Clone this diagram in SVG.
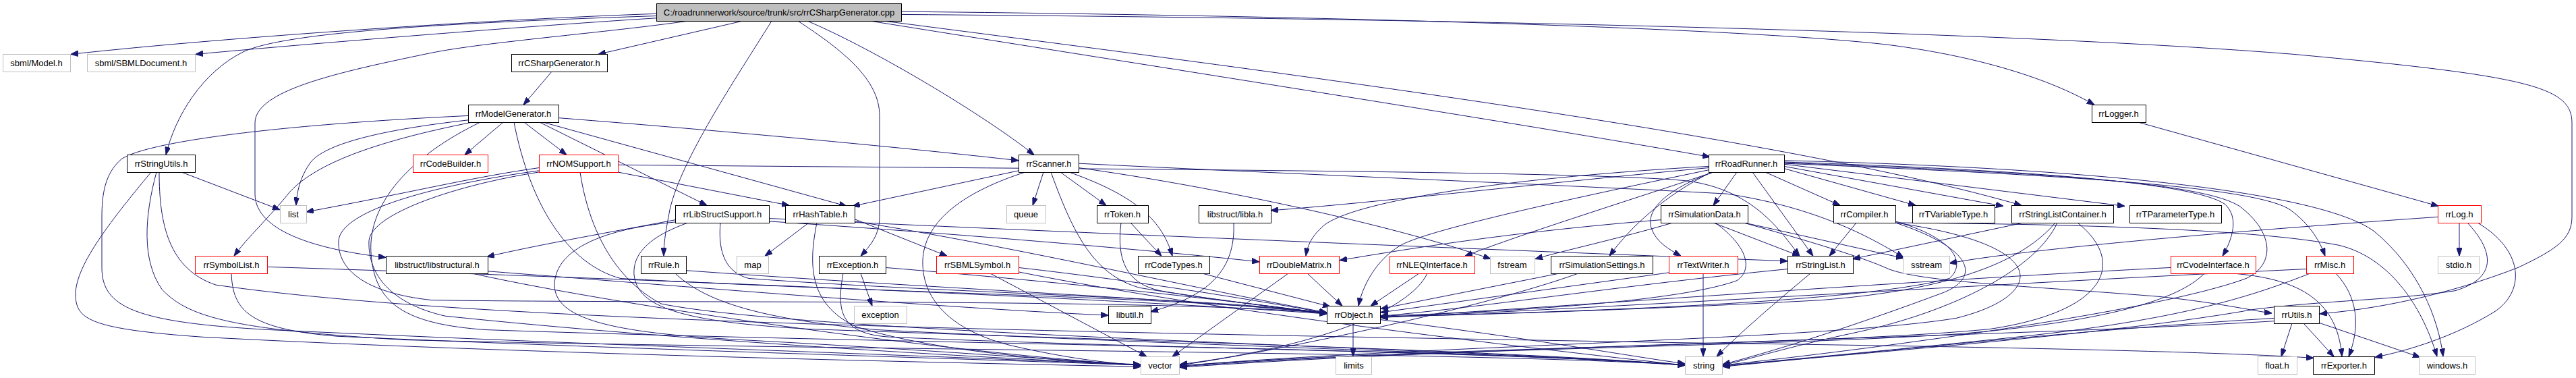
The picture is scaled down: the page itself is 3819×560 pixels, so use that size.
<svg xmlns="http://www.w3.org/2000/svg" width="3819" height="560" viewBox="0 0 3819 560">
<style>
.e path{fill:none;stroke:#191970;stroke-width:1;marker-end:url(#ah);vector-effect:non-scaling-stroke}
.n rect{fill:#fff;stroke:#000;stroke-width:1}
.n.r rect{stroke:#ff0000}
.n.g rect{stroke:#bfbfbf}
.n.root rect{fill:#bfbfbf}
.n text{font-family:"Liberation Sans",Arial,Helvetica,sans-serif;font-size:13px;text-anchor:middle;fill:#000}
</style>
<defs>
<marker id="ah" viewBox="0 0 11 8" markerWidth="11" markerHeight="8" refX="11" refY="4" orient="auto" markerUnits="userSpaceOnUse"><path d="M0,0L11,4L0,8z" fill="#191970" stroke="#191970" stroke-width="1"/></marker>
</defs>
<rect width="3819" height="560" fill="#fff"/>
<g id="connectors" class="e" transform="scale(1,1.0714)">
<path d="M973,19 C750,26 350,50 105,75"/>
<path d="M973,25 C800,35 500,57 290,75"/>
<path d="M973,22 C650,32 420,45 360,72 C300,100 260,160 246,214"/>
<path d="M1020,29 C900,45 720,58 640,73 C500,100 378,125 378,170 L378,268 C378,320 470,345 572,356"/>
<path d="M1101,29 L887,75"/>
<path d="M1144,29 C1090,110 1010,220 993,290 C987,320 984,335 984,354"/>
<path d="M1183,29 C1250,70 1304,110 1304,160 L1304,300 C1304,325 1290,340 1276,354"/>
<path d="M1197,29 C1300,70 1460,160 1533,214"/>
<path d="M1290,29 C1700,90 2250,170 2535,217"/>
<path d="M1310,29 C1900,100 2650,190 2997,284"/>
<path d="M1336,16 C2000,22 2600,40 2800,62 C2950,80 3050,115 3105,145"/>
<path d="M1336,20 C2200,26 3000,45 3400,75 C3750,105 3813,120 3813,170 L3813,300 C3813,330 3790,345 3733,370 C3650,400 3550,425 3439,434"/>
<path d="M818,99 L776,145"/>
<path d="M746,169 L689,214"/>
<path d="M777,169 L840,214"/>
<path d="M800,169 L1048,284"/>
<path d="M805,169 L1255,285"/>
<path d="M828,163 C1100,183 1350,205 1510,222"/>
<path d="M762,169 C785,280 840,365 920,385 C1300,405 1750,410 1967,433"/>
<path d="M694,160 C420,172 220,195 180,220 C155,240 151,270 151,300 L151,370 C151,425 200,446 400,456 C900,478 1400,492 1691,505"/>
<path d="M694,166 C560,180 480,200 460,225 C445,245 440,265 439,284"/>
<path d="M700,169 C560,195 470,225 430,265 C400,300 365,330 347,354"/>
<path d="M712,169 C610,215 545,280 550,350 C555,420 600,448 720,456 C1300,475 2200,482 2498,505"/>
<path d="M799,232 C700,245 600,268 454,293"/>
<path d="M916,238 L1170,284"/>
<path d="M916,228 C1600,234 2350,236 2500,250 C2600,262 2640,320 2668,354"/>
<path d="M799,236 C650,255 505,290 502,333 C500,372 540,405 640,415 C1000,420 1700,412 1967,433"/>
<path d="M799,238 C680,255 550,295 547,333 C545,380 580,420 660,437 C1000,470 1450,495 1691,504"/>
<path d="M860,238 C870,300 900,380 980,420 C1200,462 2200,482 2498,505"/>
<path d="M1001,304 C900,322 800,338 722,355"/>
<path d="M1001,307 C880,318 822,350 822,395 C824,440 900,460 1100,470 C1400,485 1600,500 1691,505"/>
<path d="M1020,308 C960,328 938,352 940,380 C945,425 1010,445 1200,455 C1700,472 2250,485 2498,505"/>
<path d="M1068,308 C1065,340 1070,375 1110,385 C1400,405 1800,412 1967,433"/>
<path d="M1140,306 C1400,322 1700,345 1867,362"/>
<path d="M1140,302 C1500,318 2200,345 2650,361"/>
<path d="M1199,308 L1134,354"/>
<path d="M1267,303 L1404,354"/>
<path d="M1267,306 C1500,340 1800,405 1967,432"/>
<path d="M1211,308 C1200,360 1195,420 1270,452 C1400,490 1600,500 1691,505"/>
<path d="M1547,238 L1531,284"/>
<path d="M1572,238 L1640,284"/>
<path d="M1585,238 C1675,268 1722,300 1738,354"/>
<path d="M1520,238 C1420,268 1370,310 1368,360 C1366,420 1420,460 1500,478 C1580,495 1640,502 1691,505"/>
<path d="M1558,238 C1590,320 1620,380 1690,398 C1800,415 1900,425 1967,433"/>
<path d="M1510,236 L1264,285"/>
<path d="M1599,232 C1800,258 2060,310 2210,358"/>
<path d="M1599,226 C1900,240 2300,255 2560,268 C2680,285 2760,320 2822,356"/>
<path d="M1676,308 L1722,354"/>
<path d="M1662,308 C1655,360 1670,392 1720,402 C1820,418 1920,427 1967,434"/>
<path d="M1782,378 L1972,424"/>
<path d="M1829,308 C1832,375 1790,410 1706,431"/>
<path d="M1468,378 L1700,493"/>
<path d="M1510,370 C1700,390 1880,418 1967,433"/>
<path d="M1510,376 C1800,430 2250,480 2498,505"/>
<path d="M1910,378 L1738,493"/>
<path d="M1938,378 L1990,423"/>
<path d="M1276,378 L1293,423"/>
<path d="M1313,370 C1600,392 1850,418 1967,434"/>
<path d="M1250,378 C1240,430 1245,462 1320,466 C1700,482 2250,487 2498,505"/>
<path d="M1017,374 C1400,400 1800,415 1967,434"/>
<path d="M1001,378 C1040,412 1110,440 1300,456 C1800,480 2250,488 2498,505"/>
<path d="M723,375 C1000,395 1400,426 1643,436"/>
<path d="M700,378 C900,420 1400,488 1691,505"/>
<path d="M396,369 C900,384 1600,410 1967,434"/>
<path d="M343,378 C345,430 370,455 500,465 C900,482 1400,495 1691,505"/>
<path d="M269,238 L415,290"/>
<path d="M224,238 C160,310 110,370 112,410 C114,442 135,455 300,466 C700,486 1300,500 1691,507"/>
<path d="M232,238 C214,300 210,360 240,400 C280,440 350,456 600,470 C1200,484 2200,486 2498,505"/>
<path d="M236,238 C236,310 250,372 320,394 C700,445 1500,458 2500,474 C3000,480 3300,487 3430,495"/>
<path d="M2006,447 L2006,493"/>
<path d="M2046,442 C2250,465 2400,490 2498,503"/>
<path d="M2533,230 C2250,245 2020,275 1965,310 C1945,325 1938,340 1936,354"/>
<path d="M2533,232 C2300,252 2020,282 1884,291"/>
<path d="M2533,235 C2300,280 2110,320 2075,340 C2040,360 2020,395 2014,423"/>
<path d="M2540,238 C2420,276 2260,322 2172,354"/>
<path d="M2537,238 C2470,270 2420,310 2386,354"/>
<path d="M2540,238 C2470,262 2440,290 2448,315 C2455,335 2475,345 2492,354"/>
<path d="M2575,238 L2540,284"/>
<path d="M2598,238 L2688,354"/>
<path d="M2617,238 L2728,284"/>
<path d="M2645,233 L2840,284"/>
<path d="M2645,230 L2970,285"/>
<path d="M2645,227 L3150,285"/>
<path d="M2645,224 C3000,235 3250,252 3298,282 C3320,300 3310,330 3295,354"/>
<path d="M2645,226 C3000,240 3340,255 3395,290 C3425,310 3440,335 3447,354"/>
<path d="M2645,222 C3100,232 3440,265 3520,320 C3585,370 3615,440 3622,493"/>
<path d="M2645,225 C3000,238 3260,250 3320,285 C3370,320 3375,365 3330,385 C3200,430 2800,480 2554,505"/>
<path d="M2462,304 C2250,320 2100,342 1986,360"/>
<path d="M2480,308 C2400,330 2320,346 2276,358"/>
<path d="M2540,308 L2668,354"/>
<path d="M2543,308 C2590,340 2600,372 2575,388 C2480,420 2200,432 2047,437"/>
<path d="M2586,308 L2822,357"/>
<path d="M2585,308 C2680,333 2760,355 2800,372 C2850,390 3000,395 3200,410 C3300,420 3340,430 3368,433"/>
<path d="M2752,308 L2712,354"/>
<path d="M2810,306 C2900,330 2915,365 2890,385 C2750,420 2300,432 2047,438"/>
<path d="M2810,308 C2930,345 2935,385 2880,405 C2750,450 2650,480 2554,504"/>
<path d="M2810,308 C3100,310 3350,318 3467,339 C3540,355 3590,420 3613,493"/>
<path d="M2810,308 C3050,340 3030,410 2900,440 C2700,470 2100,478 1749,506"/>
<path d="M3000,308 L2747,358"/>
<path d="M3047,308 C3000,360 2900,400 2700,415 C2400,430 2150,436 2047,438"/>
<path d="M3050,308 C3020,370 2900,430 2750,460 C2650,480 2600,495 2554,505"/>
<path d="M3080,308 C3150,360 3130,430 2950,455 C2700,478 2100,480 1749,506"/>
<path d="M2525,378 L2525,493"/>
<path d="M2474,377 L2047,432"/>
<path d="M2312,378 L2047,427"/>
<path d="M2340,378 C2200,425 1900,485 1749,505"/>
<path d="M2104,378 L2032,423"/>
<path d="M2116,378 C2090,430 1950,480 1749,504"/>
<path d="M2650,372 C2400,395 2200,425 2047,437"/>
<path d="M2684,378 C2630,420 2580,460 2545,493"/>
<path d="M3218,370 C2800,390 2300,425 2047,439"/>
<path d="M3268,378 C3230,415 3120,445 2900,462 C2600,480 2100,482 1749,507"/>
<path d="M3310,378 C3400,385 3465,410 3472,493"/>
<path d="M3463,378 C3495,410 3500,450 3482,493"/>
<path d="M3419,372 C3000,390 2400,425 2047,439"/>
<path d="M3425,378 C3350,405 3250,440 3000,465 C2800,485 2650,497 2554,506"/>
<path d="M3398,447 L3382,493"/>
<path d="M3415,447 L3460,493"/>
<path d="M3437,446 L3588,494"/>
<path d="M3371,440 C3100,455 2800,485 2554,507"/>
<path d="M3371,444 C3000,465 2200,478 1749,508"/>
<path d="M3646,308 L3646,354"/>
<path d="M3614,300 C3300,320 3000,345 2890,364"/>
<path d="M3673,308 C3740,345 3745,400 3700,430 C3640,465 3570,485 3521,494"/>
<path d="M3658,308 C3700,350 3700,385 3640,402 C3550,415 3450,415 3340,428 C3150,460 2800,485 2554,506"/>
<path d="M3170,169 L3615,285"/>
</g>
<g id="node-root" class="n root"><rect x="973.5" y="5.5" width="363" height="26"/><text x="1155" y="23">C:/roadrunnerwork/source/trunk/src/rrCSharpGenerator.cpp</text></g>
<g id="node-sbml-model" class="n g"><rect x="4.5" y="80.5" width="100" height="26"/><text x="54" y="98">sbml/Model.h</text></g>
<g id="node-sbml-sbmldocument" class="n g"><rect x="129.5" y="80.5" width="160" height="26"/><text x="209" y="98">sbml/SBMLDocument.h</text></g>
<g id="node-rrcsharpgenerator" class="n"><rect x="758.5" y="80.5" width="142" height="26"/><text x="829" y="98">rrCSharpGenerator.h</text></g>
<g id="node-rrmodelgenerator" class="n"><rect x="694.5" y="155.5" width="134" height="26"/><text x="761" y="173">rrModelGenerator.h</text></g>
<g id="node-rrlogger" class="n"><rect x="3101.5" y="155.5" width="80" height="26"/><text x="3141" y="173">rrLogger.h</text></g>
<g id="node-rrstringutils" class="n"><rect x="188.5" y="229.5" width="101" height="26"/><text x="239" y="247">rrStringUtils.h</text></g>
<g id="node-rrcodebuilder" class="n r"><rect x="612.5" y="229.5" width="111" height="26"/><text x="668" y="247">rrCodeBuilder.h</text></g>
<g id="node-rrnomsupport" class="n r"><rect x="799.5" y="229.5" width="117" height="26"/><text x="858" y="247">rrNOMSupport.h</text></g>
<g id="node-rrscanner" class="n"><rect x="1510.5" y="229.5" width="89" height="26"/><text x="1555" y="247">rrScanner.h</text></g>
<g id="node-rrroadrunner" class="n"><rect x="2533.5" y="229.5" width="112" height="26"/><text x="2589" y="247">rrRoadRunner.h</text></g>
<g id="node-list" class="n g"><rect x="415.5" y="304.5" width="39" height="26"/><text x="435" y="322">list</text></g>
<g id="node-rrlibstructsupport" class="n"><rect x="1001.5" y="304.5" width="139" height="26"/><text x="1071" y="322">rrLibStructSupport.h</text></g>
<g id="node-rrhashtable" class="n"><rect x="1164.5" y="304.5" width="103" height="26"/><text x="1216" y="322">rrHashTable.h</text></g>
<g id="node-queue" class="n g"><rect x="1492.5" y="304.5" width="58" height="26"/><text x="1521" y="322">queue</text></g>
<g id="node-rrtoken" class="n"><rect x="1626.5" y="304.5" width="76" height="26"/><text x="1664" y="322">rrToken.h</text></g>
<g id="node-libla" class="n"><rect x="1777.5" y="304.5" width="107" height="26"/><text x="1831" y="322">libstruct/libla.h</text></g>
<g id="node-rrsimulationdata" class="n"><rect x="2462.5" y="304.5" width="129" height="26"/><text x="2527" y="322">rrSimulationData.h</text></g>
<g id="node-rrcompiler" class="n"><rect x="2718.5" y="304.5" width="92" height="26"/><text x="2764" y="322">rrCompiler.h</text></g>
<g id="node-rrtvariabletype" class="n"><rect x="2835.5" y="304.5" width="122" height="26"/><text x="2896" y="322">rrTVariableType.h</text></g>
<g id="node-rrstringlistcontainer" class="n"><rect x="2982.5" y="304.5" width="151" height="26"/><text x="3058" y="322">rrStringListContainer.h</text></g>
<g id="node-rrtparametertype" class="n"><rect x="3157.5" y="304.5" width="136" height="26"/><text x="3225" y="322">rrTParameterType.h</text></g>
<g id="node-rrlog" class="n r"><rect x="3614.5" y="304.5" width="64" height="26"/><text x="3646" y="322">rrLog.h</text></g>
<g id="node-rrsymbollist" class="n r"><rect x="289.5" y="379.5" width="107" height="26"/><text x="343" y="397">rrSymbolList.h</text></g>
<g id="node-libstructural" class="n"><rect x="572.5" y="379.5" width="151" height="26"/><text x="648" y="397">libstruct/libstructural.h</text></g>
<g id="node-rrrule" class="n"><rect x="950.5" y="379.5" width="67" height="26"/><text x="984" y="397">rrRule.h</text></g>
<g id="node-map" class="n g"><rect x="1092.5" y="379.5" width="47" height="26"/><text x="1116" y="397">map</text></g>
<g id="node-rrexception" class="n"><rect x="1214.5" y="379.5" width="99" height="26"/><text x="1264" y="397">rrException.h</text></g>
<g id="node-rrsbmlsymbol" class="n r"><rect x="1388.5" y="379.5" width="122" height="26"/><text x="1449" y="397">rrSBMLSymbol.h</text></g>
<g id="node-rrcodetypes" class="n"><rect x="1687.5" y="379.5" width="106" height="26"/><text x="1740" y="397">rrCodeTypes.h</text></g>
<g id="node-rrdoublematrix" class="n r"><rect x="1867.5" y="379.5" width="118" height="26"/><text x="1926" y="397">rrDoubleMatrix.h</text></g>
<g id="node-rrnleqinterface" class="n r"><rect x="2060.5" y="379.5" width="126" height="26"/><text x="2123" y="397">rrNLEQInterface.h</text></g>
<g id="node-fstream" class="n g"><rect x="2209.5" y="379.5" width="66" height="26"/><text x="2242" y="397">fstream</text></g>
<g id="node-rrsimulationsettings" class="n"><rect x="2299.5" y="379.5" width="151" height="26"/><text x="2375" y="397">rrSimulationSettings.h</text></g>
<g id="node-rrtextwriter" class="n r"><rect x="2474.5" y="379.5" width="102" height="26"/><text x="2525" y="397">rrTextWriter.h</text></g>
<g id="node-rrstringlist" class="n"><rect x="2650.5" y="379.5" width="97" height="26"/><text x="2699" y="397">rrStringList.h</text></g>
<g id="node-sstream" class="n g"><rect x="2821.5" y="379.5" width="69" height="26"/><text x="2856" y="397">sstream</text></g>
<g id="node-rrcvodeinterface" class="n r"><rect x="3218.5" y="379.5" width="126" height="26"/><text x="3281" y="397">rrCvodeInterface.h</text></g>
<g id="node-rrmisc" class="n r"><rect x="3419.5" y="379.5" width="70" height="26"/><text x="3454" y="397">rrMisc.h</text></g>
<g id="node-stdio" class="n g"><rect x="3614.5" y="379.5" width="61" height="26"/><text x="3645" y="397">stdio.h</text></g>
<g id="node-exception" class="n g"><rect x="1266.5" y="453.5" width="78" height="26"/><text x="1305" y="471">exception</text></g>
<g id="node-libutil" class="n"><rect x="1643.5" y="453.5" width="63" height="26"/><text x="1675" y="471">libutil.h</text></g>
<g id="node-rrobject" class="n"><rect x="1967.5" y="453.5" width="79" height="26"/><text x="2007" y="471">rrObject.h</text></g>
<g id="node-rrutils" class="n"><rect x="3371.5" y="453.5" width="67" height="26"/><text x="3405" y="471">rrUtils.h</text></g>
<g id="node-vector" class="n g"><rect x="1691.5" y="528.5" width="57" height="26"/><text x="1720" y="546">vector</text></g>
<g id="node-limits" class="n g"><rect x="1980.5" y="528.5" width="53" height="26"/><text x="2007" y="546">limits</text></g>
<g id="node-string" class="n g"><rect x="2498.5" y="528.5" width="55" height="26"/><text x="2526" y="546">string</text></g>
<g id="node-float" class="n g"><rect x="3347.5" y="528.5" width="58" height="26"/><text x="3376" y="546">float.h</text></g>
<g id="node-rrexporter" class="n"><rect x="3429.5" y="528.5" width="91" height="26"/><text x="3475" y="546">rrExporter.h</text></g>
<g id="node-windows" class="n g"><rect x="3586.5" y="528.5" width="83" height="26"/><text x="3628" y="546">windows.h</text></g>
</svg>
